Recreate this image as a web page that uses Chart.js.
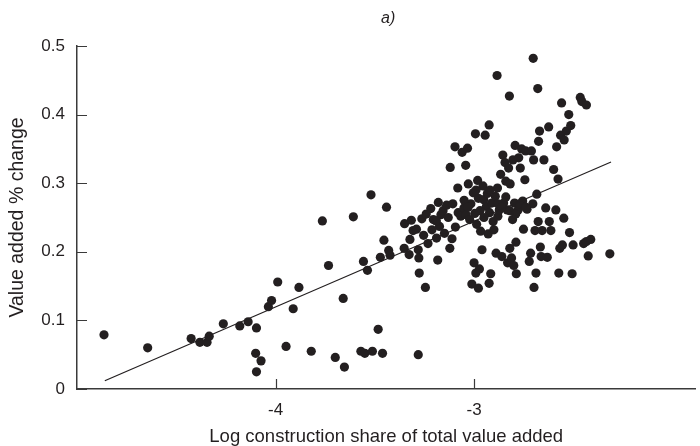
<!DOCTYPE html>
<html>
<head>
<meta charset="utf-8">
<script src="https://cdn.jsdelivr.net/npm/chart.js@4"></script>
<style>
  body { margin: 0; background: #fff; }
  canvas { display: block; }
</style>
</head>
<body>
<canvas id="myChart" width="700" height="446"></canvas>
<script>
// log construction share (x) and value added % change (y)
const shareLog = [
  -4.864, -4.644, -4.425, -4.381, -4.345, -4.334, -4.263, -4.180, -4.138, -4.096,
  -4.100, -4.073, -4.096, -4.036, -4.020, -3.989, -3.947, -3.911, -3.882, -3.820,
  -3.764, -3.733, -3.699, -3.659, -3.653, -3.608, -3.570, -3.557, -3.550, -3.537,
  -3.519, -3.512, -3.483, -3.461, -3.454, -3.441, -3.472, -3.430, -3.423, -3.281,
  -3.350, -3.316, -3.352, -3.327, -3.323, -3.307, -3.290, -3.281, -3.278, -3.276,
  -3.263, -3.254, -3.245, -3.241, -3.232, -3.218, -3.212, -3.205, -3.189, -3.183,
  -3.180, -3.174, -3.167, -3.156, -3.149, -3.138, -3.122, -3.120, -3.111, -3.107,
  -3.096, -3.094, -3.082, -3.080, -3.067, -3.060, -3.051, -3.042, -3.040, -3.033,
  -3.029, -3.022, -3.016, -3.011, -3.004, -3.000, -2.996, -2.993, -2.991, -2.987,
  -2.982, -2.978, -2.978, -2.973, -2.967, -2.960, -2.955, -2.951, -2.944, -2.938,
  -2.933, -2.929, -2.924, -2.924, -2.922, -2.916, -2.911, -2.904, -2.900, -2.893,
  -2.889, -2.884, -2.882, -2.880, -2.873, -2.866, -2.860, -2.855, -2.851, -2.844,
  -2.840, -2.833, -2.831, -2.826, -2.822, -2.820, -2.818, -2.811, -2.806, -2.804,
  -2.800, -2.796, -2.793, -2.789, -2.787, -2.778, -2.775, -2.767, -2.760, -2.755,
  -2.751, -2.744, -2.740, -2.733, -2.722, -2.715, -2.711, -2.704, -2.702, -2.700,
  -2.698, -2.693, -2.688, -2.684, -2.679, -2.677, -2.675, -2.670, -2.666, -2.662,
  -2.657, -2.648, -2.639, -2.631, -2.624, -2.621, -2.613, -2.599, -2.588, -2.584,
  -2.577, -2.573, -2.568, -2.564, -2.559, -2.555, -2.548, -2.546, -2.535, -2.523,
  -2.519, -2.513, -2.506, -2.501, -2.465, -2.457, -2.448, -2.434, -2.434, -2.425,
  -2.412, -2.316,
  -3.190, -3.130, -3.050, -3.030, -2.990, -2.970, -2.950, -2.920, -2.880, -2.860,
  -2.840, -2.820, -2.790, -2.770, -2.740
];
const vaChange = [
  0.079, 0.060, 0.0735, 0.068, 0.068, 0.077, 0.095, 0.092, 0.098, 0.089,
  0.052, 0.041, 0.025, 0.120, 0.129, 0.156, 0.062, 0.117, 0.148, 0.055,
  0.245, 0.180, 0.046, 0.132, 0.032, 0.251, 0.055, 0.186, 0.052, 0.173,
  0.283, 0.055, 0.087, 0.052, 0.217, 0.265, 0.192, 0.202, 0.195, 0.050,
  0.241, 0.246, 0.205, 0.196, 0.218, 0.231, 0.233, 0.203, 0.191, 0.169,
  0.248, 0.224, 0.148, 0.255, 0.212, 0.263, 0.232, 0.247, 0.220, 0.188,
  0.272, 0.237, 0.254, 0.260, 0.227, 0.268, 0.205, 0.323, 0.219, 0.270,
  0.353, 0.236, 0.293, 0.257, 0.252, 0.345, 0.264, 0.326, 0.254, 0.351,
  0.299, 0.247, 0.270, 0.153, 0.286, 0.184, 0.256, 0.372, 0.169, 0.240,
  0.304, 0.147, 0.278, 0.175, 0.230, 0.203, 0.296, 0.276, 0.370, 0.266,
  0.285, 0.226, 0.385, 0.154, 0.257, 0.168, 0.271, 0.244, 0.232, 0.281,
  0.198, 0.457, 0.293, 0.252, 0.261, 0.313, 0.193, 0.341, 0.271, 0.330,
  0.303, 0.261, 0.184, 0.322, 0.427, 0.205, 0.299, 0.191, 0.247, 0.334,
  0.180, 0.271, 0.355, 0.214, 0.168, 0.261, 0.337, 0.322, 0.350, 0.274,
  0.233, 0.305, 0.347, 0.262, 0.186, 0.198, 0.347, 0.270, 0.482, 0.334,
  0.148, 0.231, 0.169, 0.284, 0.438, 0.244, 0.361, 0.376, 0.207, 0.193,
  0.231, 0.334, 0.264, 0.192, 0.382, 0.244, 0.231, 0.320, 0.261, 0.353,
  0.306, 0.169, 0.205, 0.370, 0.417, 0.210, 0.249, 0.363, 0.376, 0.400,
  0.228, 0.384, 0.168, 0.210, 0.425, 0.419, 0.212, 0.414, 0.215, 0.194,
  0.218, 0.197,
  0.245, 0.250, 0.275, 0.265, 0.290, 0.260, 0.250, 0.290, 0.270, 0.265,
  0.280, 0.260, 0.255, 0.270, 0.265
];

// fitted regression line end points
const fitX = [-4.86, -2.31];
const fitY = [0.012, 0.331];

// tick labels
const xTickValues = [-4, -3];
const yTickValues = [0, 0.1, 0.2, 0.3, 0.4, 0.5];

const ink = "#231f20";
const axisInk = "#3a3a3a";
const font = "'Liberation Sans', Arial, sans-serif";

// ticks drawn inward from the axes, plus the panel label
const inwardTicks = {
  id: "inwardTicks",
  afterDraw(chart) {
    const { ctx, chartArea, scales } = chart;
    ctx.save();
    ctx.strokeStyle = axisInk;
    ctx.lineWidth = 1.2;
    ctx.beginPath();
    xTickValues.forEach((v) => {
      const px = Math.round(scales.x.getPixelForValue(v)) + 0.5;
      ctx.moveTo(px, chartArea.bottom);
      ctx.lineTo(px, chartArea.bottom - 10);
    });
    yTickValues.forEach((v) => {
      const py = Math.round(scales.y.getPixelForValue(v)) + 0.5;
      ctx.moveTo(chartArea.left, py);
      ctx.lineTo(chartArea.left + 10, py);
    });
    ctx.stroke();

    ctx.fillStyle = ink;
    ctx.font = "italic 16px " + font;
    ctx.textAlign = "center";
    ctx.textBaseline = "middle";
    ctx.fillText("a)", (chartArea.left + chartArea.right) / 2 + 2, 19);
    ctx.restore();
  },
};

const points = shareLog.map((x, i) => ({ x: x, y: vaChange[i] }));
const fitLine = fitX.map((x, i) => ({ x: x, y: fitY[i] }));

new Chart(document.getElementById("myChart"), {
  type: "scatter",
  data: {
    datasets: [
      {
        label: "fit",
        data: fitLine,
        showLine: true,
        borderColor: ink,
        borderWidth: 1.2,
        pointRadius: 0,
        fill: false,
      },
      {
        label: "countries",
        data: points,
        backgroundColor: ink,
        borderWidth: 0,
        pointRadius: 4.6,
      },
    ],
  },
  options: {
    responsive: false,
    animation: false,
    devicePixelRatio: 1,
    layout: { padding: { top: 46, right: 0, bottom: 0, left: 8 } },
    plugins: {
      legend: { display: false },
      tooltip: { enabled: false },
    },
    scales: {
      x: {
        type: "linear",
        min: -5,
        max: -1.885,
        afterBuildTicks: (scale) => {
          scale.ticks = xTickValues.map((v) => ({ value: v }));
        },
        afterFit: (scale) => {
          scale.height = 446 - 389;
        },
        grid: { display: true, drawOnChartArea: false, drawTicks: false },
        border: { display: true, color: axisInk, width: 1.5 },
        ticks: {
          padding: 11,
          color: ink,
          font: { family: font, size: 17 },
          callback: (v) => String(v),
        },
        title: {
          display: true,
          text: "Log construction share of total value added",
          color: ink,
          font: { family: font, size: 18.5, lineHeight: 1.0 },
          padding: { top: 4, bottom: 0 },
        },
      },
      y: {
        type: "linear",
        min: 0,
        max: 0.5,
        afterBuildTicks: (scale) => {
          scale.ticks = yTickValues.map((v) => ({ value: v }));
        },
        afterFit: (scale) => {
          scale.width = 77 - 8;
        },
        grid: { display: true, drawOnChartArea: false, drawTicks: false },
        border: { display: true, color: axisInk, width: 1.5 },
        ticks: {
          padding: 12,
          color: ink,
          font: { family: font, size: 17 },
          callback: (v) => (v === 0 ? "0" : v.toFixed(1)),
        },
        title: {
          display: true,
          text: "Value added % change",
          color: ink,
          font: { family: font, size: 19.5, lineHeight: 1.0 },
          padding: { top: 0, bottom: 4 },
        },
      },
    },
  },
  plugins: [inwardTicks],
});
</script>
</body>
</html>
